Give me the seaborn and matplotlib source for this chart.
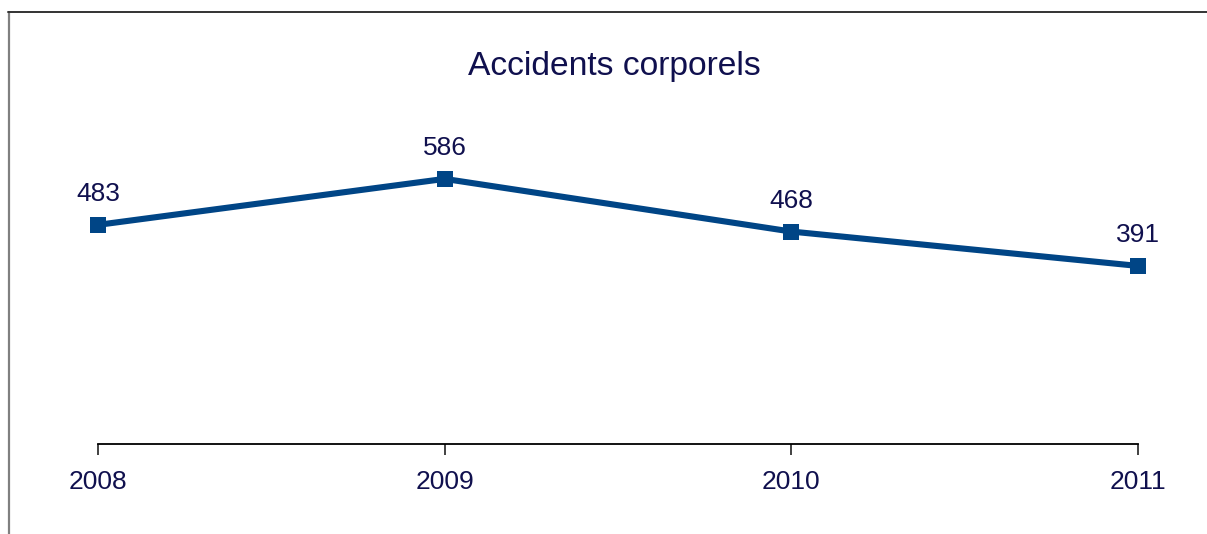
import matplotlib
matplotlib.use("Agg")
import matplotlib.pyplot as plt
import seaborn as sns
import pandas as pd
from matplotlib.lines import Line2D

years = ["2008", "2009", "2010", "2011"]
values = [483, 586, 468, 391]
title = "Accidents corporels"

sns.set_theme(style="white")
plt.rcParams["font.family"] = ["Liberation Sans", "DejaVu Sans"]

W, H = 1207, 534
fig = plt.figure(figsize=(W / 100, H / 100), dpi=100)
ax = fig.add_axes([98 / W, 1 - 444 / H, (1138 - 98) / W, (444 - 128) / H])

df = pd.DataFrame({"year": years, "value": values})
line_color = "#004586"
text_color = "#10104e"
sns.lineplot(data=df, x="year", y="value", ax=ax, color=line_color, linewidth=4.4,
             marker="s", markersize=11.5, markeredgewidth=0, sort=False)
for ln in ax.lines:
    ln.set_clip_on(False)

ax.set_xlim(0, len(years) - 1)
ax.set_ylim(-8, 700)
for i, v in enumerate(values):
    ax.annotate(str(v), (i, v), xytext=(0, 22), textcoords="offset points",
                ha="center", va="center", fontsize=19, color=text_color)

for s in ["top", "right", "left"]:
    ax.spines[s].set_visible(False)
ax.spines["bottom"].set_color("black")
ax.spines["bottom"].set_linewidth(1.3)
ax.set_yticks([])
ax.set_xticks(range(len(years)))
ax.set_xticklabels(years)
ax.tick_params(axis="x", direction="out", length=8, width=1.3, color="#333333",
               bottom=True, pad=11, labelsize=19, labelcolor=text_color)
ax.set_xlabel("")
ax.set_ylabel("")
ax.patch.set_alpha(0)

fig.text(614 / W, 1 - 66 / H, title, ha="center", va="center", fontsize=24.2, color=text_color)

# frame lines (left and top)
fig.add_artist(Line2D([8.5 / W, 8.5 / W], [0, 1 - 12 / H], transform=fig.transFigure,
                      color="#808080", linewidth=1.6))
fig.add_artist(Line2D([8 / W, 1], [1 - 12 / H, 1 - 12 / H], transform=fig.transFigure,
                      color="#333333", linewidth=1.4))

fig.savefig("out.png", dpi=100)
